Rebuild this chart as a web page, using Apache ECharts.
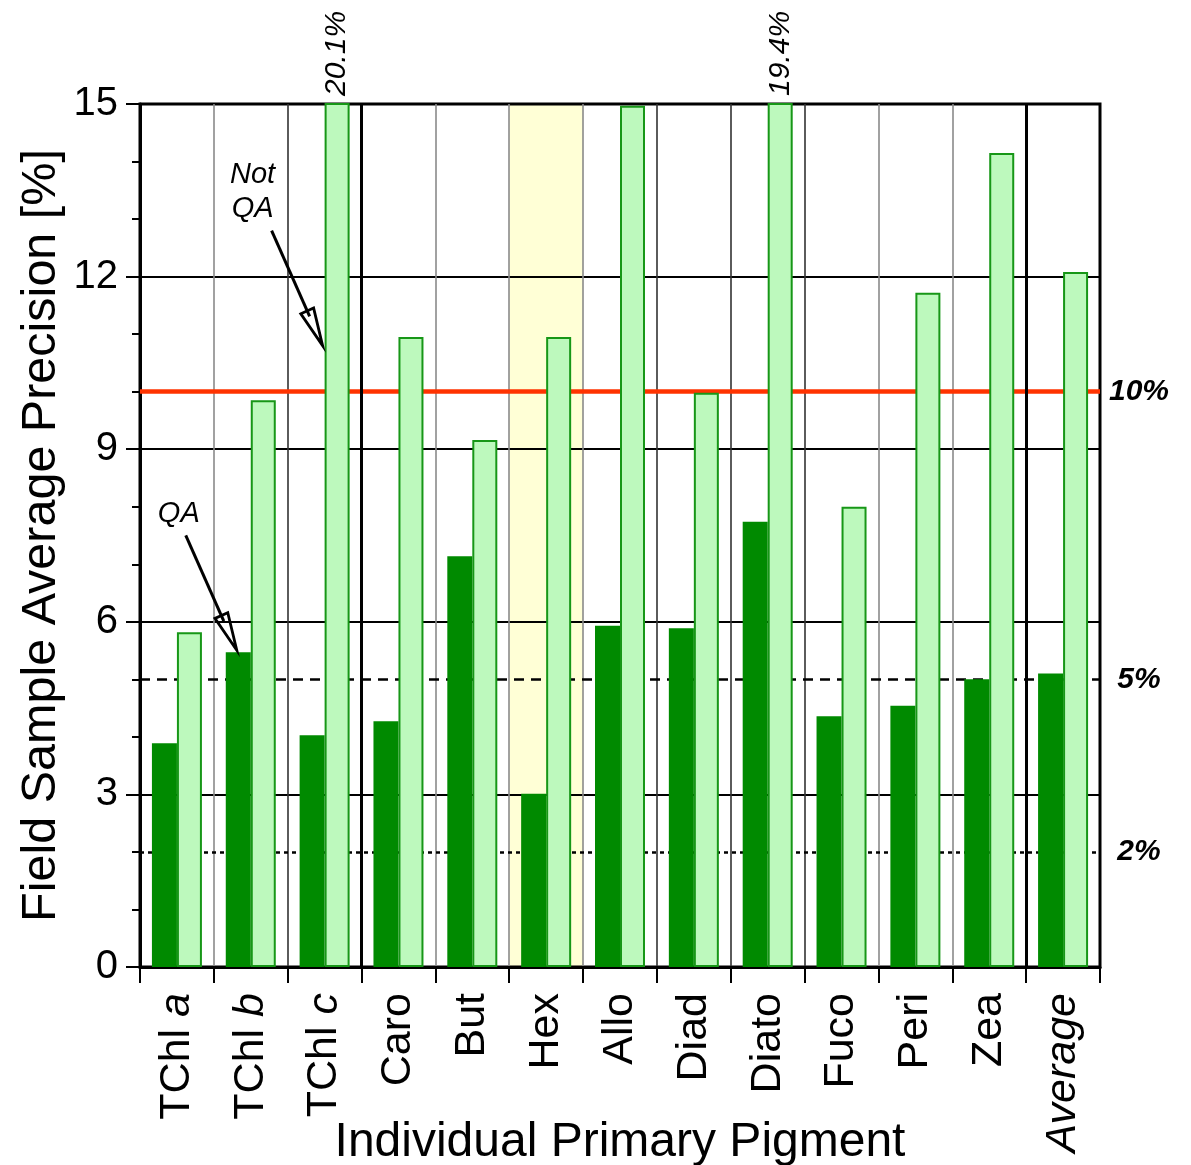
<!DOCTYPE html>
<html>
<head>
<meta charset="utf-8">
<script src="https://cdn.jsdelivr.net/npm/echarts@6/dist/echarts.min.js"></script>
<style>
  html, body { margin: 0; padding: 0; background: #fff; }
  #chart { width: 1191px; height: 1165px; }
</style>
</head>
<body>
<div id="chart"></div>
<script>
// Pigment categories along the x axis
const categories = ['TChl a', 'TChl b', 'TChl c', 'Caro', 'But', 'Hex', 'Allo', 'Diad', 'Diato', 'Fuco', 'Peri', 'Zea', 'Average'];
// Field sample average precision [%] with quality assurance
const qaValues = [3.89, 5.47, 4.03, 4.27, 7.14, 3.01, 5.93, 5.89, 7.74, 4.36, 4.54, 5.0, 5.1];
// Field sample average precision [%] without quality assurance
const notQaValues = [5.82, 9.85, 20.1, 10.95, 9.16, 10.95, 14.97, 9.98, 19.4, 8.0, 11.72, 14.15, 12.08];
// y axis range and major tick step
const yMin = 0, yMax = 15, yStep = 3;
// Precision thresholds drawn as horizontal reference lines
const thresholds = [10, 5, 2];
const highlighted = 'Hex';

const FONT = '"Liberation Sans", Arial, Helvetica, sans-serif';
const chart = echarts.init(document.getElementById('chart'), null, { renderer: 'canvas' });

// Category boundary lines: 0 = left axis ... 13 = right border
const boundaryColors = ['#000', '#8a8a8a', '#333', '#000', '#8a8a8a', '#8a8a8a', '#8a8a8a',
  '#333', '#333', '#333', '#8a8a8a', '#8a8a8a', '#000', '#000'];
const thickBoundaries = [3, 12];

const thresholdStyle = {
  10: { color: '#ff3300', width: 4.5, type: 'solid' },
  5: { color: '#000', width: 2.5, type: [10, 7] },
  2: { color: '#000', width: 2.5, type: [4, 4] }
};

function categoryLabel(name) {
  if (name.startsWith('TChl ')) return 'TChl {i|' + name.slice(5) + '}';
  if (name === 'Average') return '{i|Average}';
  return name;
}

const hIdx = categories.indexOf(highlighted);

chart.setOption({
  animation: false,
  backgroundColor: '#fff',
  grid: {
    left: 140, right: 91, top: 104, bottom: 198,
    containLabel: false, outerBoundsMode: 'none',
    show: true, borderColor: '#000', borderWidth: 3, backgroundColor: 'transparent'
  },
  xAxis: [
    {
      type: 'category',
      data: categories,
      position: 'bottom',
      name: 'Individual Primary Pigment',
      nameLocation: 'middle',
      nameGap: 152,
      nameMoveOverlap: false,
      nameTextStyle: { fontSize: 48, color: '#000', fontFamily: FONT },
      axisLine: { show: true, lineStyle: { color: '#000', width: 3 } },
      axisTick: { show: true, length: 16, lineStyle: { color: '#000', width: 2 } },
      splitLine: { show: false },
      axisLabel: {
        interval: 0,
        rotate: 90,
        margin: 26,
        fontSize: 43,
        color: '#000',
        fontFamily: FONT,
        formatter: categoryLabel,
        rich: { i: { fontStyle: 'italic', fontSize: 43, color: '#000', fontFamily: FONT } }
      }
    },
    {
      type: 'value',
      position: 'top',
      min: 0,
      max: categories.length,
      interval: 1,
      axisLine: { show: false },
      axisTick: { show: false },
      axisLabel: { show: false },
      splitLine: { show: true, lineStyle: { color: boundaryColors, width: 1.6 } }
    }
  ],
  yAxis: {
    type: 'value',
    min: yMin,
    max: yMax,
    interval: yStep,
    name: 'Field Sample Average Precision [%]',
    nameLocation: 'middle',
    nameGap: 74,
    nameMoveOverlap: false,
    nameTextStyle: { fontSize: 48.5, color: '#000', fontFamily: FONT },
    axisLine: { show: true, lineStyle: { color: '#000', width: 3 } },
    axisTick: { show: true, length: 14, lineStyle: { color: '#000', width: 2 } },
    minorTick: { show: true, splitNumber: 3, length: 8, lineStyle: { color: '#000', width: 2 } },
    splitLine: { show: true, lineStyle: { color: '#000', width: 2 } },
    axisLabel: { fontSize: 40, color: '#000', fontFamily: FONT, margin: 22 }
  },
  series: [
    {
      name: 'QA',
      type: 'bar',
      xAxisIndex: 0,
      data: qaValues,
      barWidth: 25,
      barGap: '0%',
      z: 3,
      itemStyle: { color: '#008a00' }
    },
    {
      name: 'Not QA',
      type: 'bar',
      xAxisIndex: 0,
      data: notQaValues,
      barWidth: 25,
      barGap: '0%',
      z: 3,
      itemStyle: { color: '#bdf9bd', borderColor: '#179717', borderWidth: 2 },
      label: {
        show: true,
        position: 'top',
        rotate: 90,
        align: 'left',
        verticalAlign: 'middle',
        distance: 7,
        fontSize: 30,
        fontStyle: 'italic',
        color: '#000',
        fontFamily: FONT,
        formatter: p => (p.value > yMax ? p.value.toFixed(1) + '%' : '')
      }
    },
    {
      name: 'guides',
      type: 'line',
      xAxisIndex: 1,
      yAxisIndex: 0,
      data: [],
      markArea: {
        silent: true,
        z: -1,
        itemStyle: { color: '#ffffd6' },
        data: [[{ xAxis: hIdx, yAxis: yMin }, { xAxis: hIdx + 1, yAxis: yMax }]]
      },
      markLine: {
        silent: true,
        z: 1,
        symbol: ['none', 'none'],
        data: thresholds.map(t => ({
          yAxis: t,
          lineStyle: thresholdStyle[t],
          label: {
            show: true,
            position: 'end',
            distance: 8,
            formatter: '{a|' + t + '%}',
            rich: { a: { width: 62, align: 'center', fontSize: 30, fontWeight: 'bold', fontStyle: 'italic', color: '#000', fontFamily: FONT } }
          }
        })).concat(thickBoundaries.map(b => ({
          xAxis: b,
          lineStyle: { color: '#000', width: 3, type: 'solid' },
          label: { show: false }
        })))
      }
    }
  ]
});

// Callout arrows pointing at the two bar types
function arrow(from, to) {
  const dx = to[0] - from[0], dy = to[1] - from[1];
  const L = Math.hypot(dx, dy);
  const ux = dx / L, uy = dy / L, px = -uy, py = ux;
  const headLen = 38, headHalf = 7;
  const bx = to[0] - ux * headLen, by = to[1] - uy * headLen;
  return [
    { type: 'line', z: 10, shape: { x1: from[0], y1: from[1], x2: bx + ux * 6, y2: by + uy * 6 }, style: { stroke: '#000', lineWidth: 3 } },
    { type: 'polygon', z: 10, shape: { points: [to, [bx + px * headHalf, by + py * headHalf], [bx - px * headHalf, by - py * headHalf]] },
      style: { fill: 'rgba(255,255,255,0)', stroke: '#000', lineWidth: 2.8, lineJoin: 'miter' } }
  ];
}
function callout(tip, text) {
  const twoLines = text.includes('\n');
  return [
    ...arrow([tip[0] - 51, tip[1] - 115], tip),
    { type: 'text', z: 10, x: tip[0] - 58 - (twoLines ? 12 : 0), y: tip[1] - 136 - (twoLines ? 18 : 0),
      style: { text: text, fontSize: 29, fontStyle: 'italic', fill: '#000', fontFamily: FONT, align: 'center', verticalAlign: 'middle', lineHeight: 34 } }
  ];
}

const qaTop = chart.convertToPixel({ xAxisIndex: 0, yAxisIndex: 0 }, [categories[1], qaValues[1]]);
const notQaTip = chart.convertToPixel({ xAxisIndex: 0, yAxisIndex: 0 }, [categories[2], 10.8]);
chart.setOption({
  graphic: [
    ...callout([qaTop[0] - 14, qaTop[1] - 2], 'QA'),
    ...callout([notQaTip[0] - 2, notQaTip[1]], 'Not\nQA')
  ]
});
</script>
</body>
</html>
